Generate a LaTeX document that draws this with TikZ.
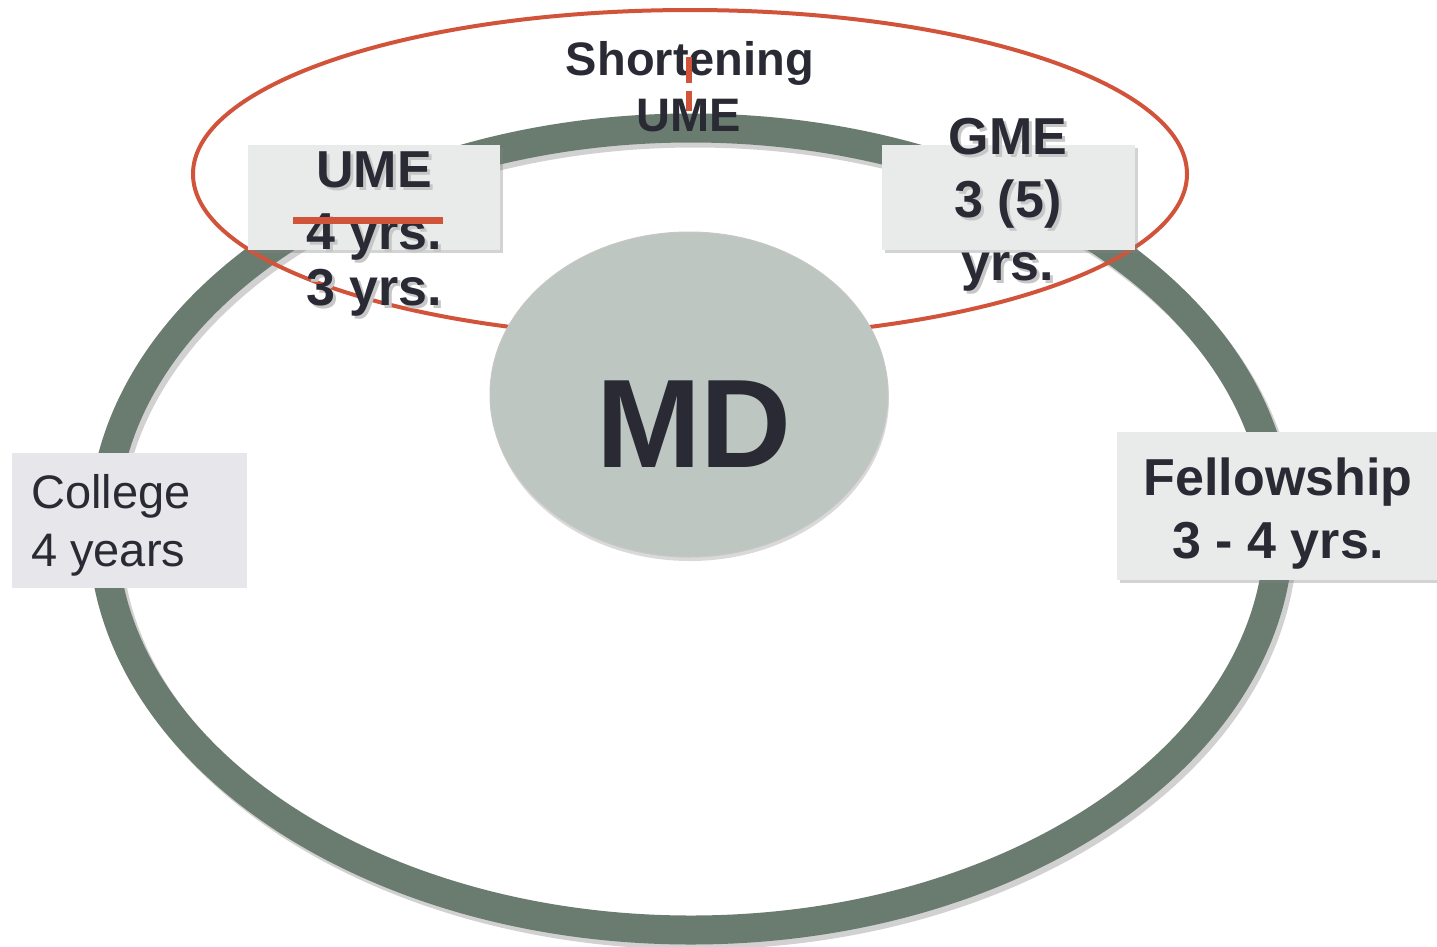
\documentclass[tikz,border=0pt]{standalone}
\usepackage{fontspec}
\setmainfont{Liberation Sans}
\usepackage{tikz}
\usetikzlibrary{shadows,shapes.geometric}
\definecolor{ringgreen}{HTML}{6A7C70}
\definecolor{cutred}{HTML}{D1533A}
\definecolor{boxgray}{HTML}{E9EBEA}
\definecolor{collgray}{HTML}{E7E7EB}
\definecolor{mdgray}{HTML}{BDC6C1}
\definecolor{inkdark}{HTML}{2A2A35}
\newcommand{\ringw}{29pt}
\newcommand{\bigfont}{\fontsize{52}{60}\selectfont\bfseries}
\newcommand{\midfont}{\fontsize{47}{56}\selectfont\bfseries}
\newcommand{\shadowed}[1]{\rlap{\hspace{3pt}\raisebox{-3pt}{\color{black!22}#1}}#1}

\begin{document}
\begin{tikzpicture}[x=1pt,y=-1pt,
    stagebox/.style={rectangle, fill=boxgray, inner sep=0pt,
      drop shadow={shadow xshift=3pt, shadow yshift=-3pt, opacity=.35}},
    lbl/.style={text=inkdark, inner sep=0pt, anchor=base, font=\bigfont}]
                %\draw[help lines] (0,0) grid (1437,946);
                \useasboundingbox (0,0) rectangle (1437,946);
                % pathway ring
                \draw[line width=\ringw, black, opacity=.18] (695,534) ellipse [x radius=588, y radius=401];
                \draw[line width=\ringw, ringgreen] (691,529) ellipse [x radius=588, y radius=401];
                % shortening loop
                \draw[line width=4pt, cutred] (690,174) ellipse [x radius=497, y radius=164];
                % centre
                \node[ellipse, minimum width=398, minimum height=325, fill=mdgray, draw=black!22, line width=1pt,
                      drop shadow={shadow xshift=1pt, shadow yshift=-4pt, opacity=.3}] (md) at (689,394.5) {};
                \node[lbl, font=\fontsize{126}{126}\selectfont\bfseries] (mdtext) at (694,467) {MD};
                % stage boxes
                \node[stagebox, minimum width=252, minimum height=105] (umebox) at (374,197.5) {};
                \node[stagebox, minimum width=253, minimum height=105] (gmebox) at (1008.5,197.5) {};
                \node[stagebox, minimum width=322, minimum height=148] (felbox) at (1278,506) {};
                \node[rectangle, fill=collgray, minimum width=235, minimum height=135, inner sep=0pt] (collbox) at (129.5,520.5) {};
                % UME
                \node[lbl] (umeA) at (374,187) {\shadowed{UME}};
                \node[lbl] (umeB) at (374,249) {\shadowed{4 yrs.}};
                \node[lbl] (umeC) at (374,305) {\shadowed{3 yrs.}};
                % GME
                \node[lbl] (gmeA) at (1008,154) {\shadowed{GME}};
                \node[lbl] (gmeB) at (1008,217) {\shadowed{3 (5)}};
                \node[lbl] (gmeC) at (1008,280) {\shadowed{yrs.}};
                % Fellowship
                \node[lbl] (felA) at (1278,495) {Fellowship};
                \node[lbl] (felB) at (1278,558) {3 - 4 yrs.};
                % College
                \node[lbl, anchor=base west, font=\fontsize{47}{56}\selectfont] (collA) at (31,508) {College};
                \node[lbl, anchor=base west, font=\fontsize{47}{56}\selectfont] (collB) at (31,566) {4 years};
                % Shortening UME
                \node[lbl, font=\midfont] (shortA) at (690,75) {Shortening};
                \node[lbl, font=\midfont] (shortB) at (689,131) {UME};
                \coordinate (cutT) at (689,57);
                \coordinate (cutB) at (689,111);
                \draw[cutred, line width=6pt, dash pattern=on 26pt off 8pt] (cutT) -- (cutB);
                % struck out
                \coordinate (strikeL) at (293,220);
                \coordinate (strikeR) at (443,220);
                \draw[cutred, line width=7pt] (strikeL) -- (strikeR);
        \end{tikzpicture}
\end{document}
